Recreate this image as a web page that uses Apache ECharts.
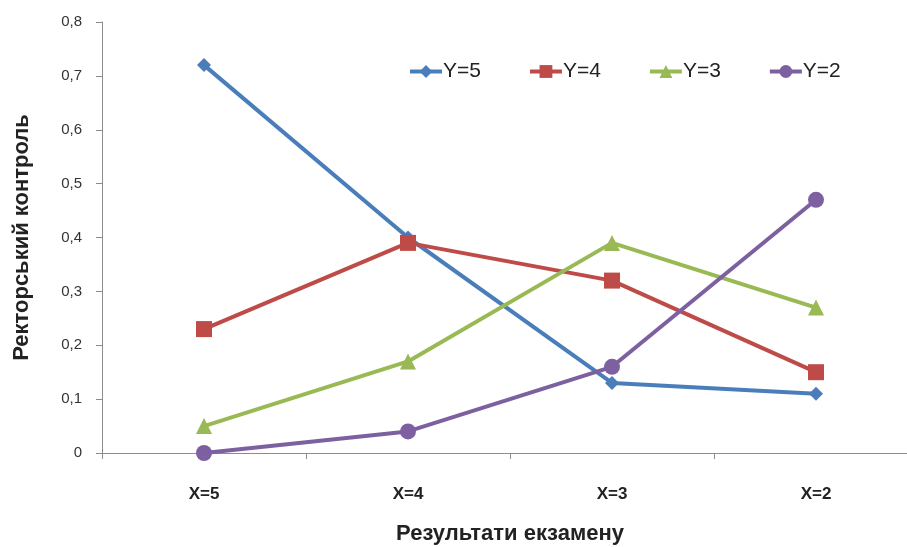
<!DOCTYPE html>
<html>
<head>
<meta charset="utf-8">
<script src="https://cdn.jsdelivr.net/npm/echarts@6/dist/echarts.min.js"></script>
<style>
  html, body { margin: 0; padding: 0; background: #fff; }
  #main { width: 907px; height: 547px; }
</style>
</head>
<body>
<div id="main"></div>
<script>
var categories = ['X=5', 'X=4', 'X=3', 'X=2'];
var y5 = [0.72, 0.40, 0.13, 0.11];
var y4 = [0.23, 0.39, 0.32, 0.15];
var y3 = [0.05, 0.17, 0.39, 0.27];
var y2 = [0.00, 0.04, 0.16, 0.47];
var yTicks = ['0', '0,1', '0,2', '0,3', '0,4', '0,5', '0,6', '0,7', '0,8'];

var chart = echarts.init(document.getElementById('main'));
var font = '"Liberation Sans", Arial, sans-serif';

function line(name, data, color, symbol, size) {
  return {
    name: name,
    type: 'line',
    data: data,
    symbol: symbol,
    symbolSize: size,
    lineStyle: { color: color, width: 4 },
    itemStyle: { color: color },
    animation: false
  };
}

var option = {
  backgroundColor: '#fff',
  textStyle: { fontFamily: font },
  grid: { left: 102, top: 22, width: 816, height: 431, outerBoundsMode: 'none', containLabel: false },
  legend: {
    left: 403, top: 56,
    itemWidth: 32, itemHeight: 16, itemGap: 47,
    lineStyle: { width: 4 },
    textStyle: { fontSize: 21, color: '#222', fontFamily: font, padding: [0, 0, 0, -4] },
    data: ['Y=5', 'Y=4', 'Y=3', 'Y=2']
  },
  xAxis: {
    type: 'category',
    data: categories,
    name: 'Результати екзамену',
    nameLocation: 'middle',
    nameGap: 70,
    nameTextStyle: { fontSize: 22, fontWeight: 'bold', color: '#222', fontFamily: font },
    axisLine: { lineStyle: { color: '#8c8c8c', width: 1 } },
    axisTick: { show: true, length: 6, lineStyle: { color: '#8c8c8c' } },
    axisLabel: { fontSize: 17, fontWeight: 'bold', color: '#222', margin: 33 },
    splitLine: { show: false }
  },
  yAxis: {
    type: 'value',
    min: 0, max: 0.8, interval: 0.1,
    name: 'Ректорський контроль',
    nameLocation: 'middle',
    nameGap: 69,
    nameRotate: 90,
    nameTextStyle: { fontSize: 22, fontWeight: 'bold', color: '#222', fontFamily: font },
    axisLine: { show: true, lineStyle: { color: '#8c8c8c', width: 1 } },
    axisTick: { show: true, length: 6, lineStyle: { color: '#8c8c8c' } },
    axisLabel: {
      fontSize: 15, color: '#333', margin: 20,
      formatter: function (v) { return yTicks[Math.round(v * 10)]; }
    },
    splitLine: { show: false }
  },
  series: [
    line('Y=5', y5, '#4a7ebb', 'diamond', 14),
    line('Y=4', y4, '#be4b48', 'rect', 16),
    line('Y=3', y3, '#98b954', 'triangle', 16),
    line('Y=2', y2, '#7d60a0', 'circle', 16)
  ]
};
chart.setOption(option);
</script>
</body>
</html>
